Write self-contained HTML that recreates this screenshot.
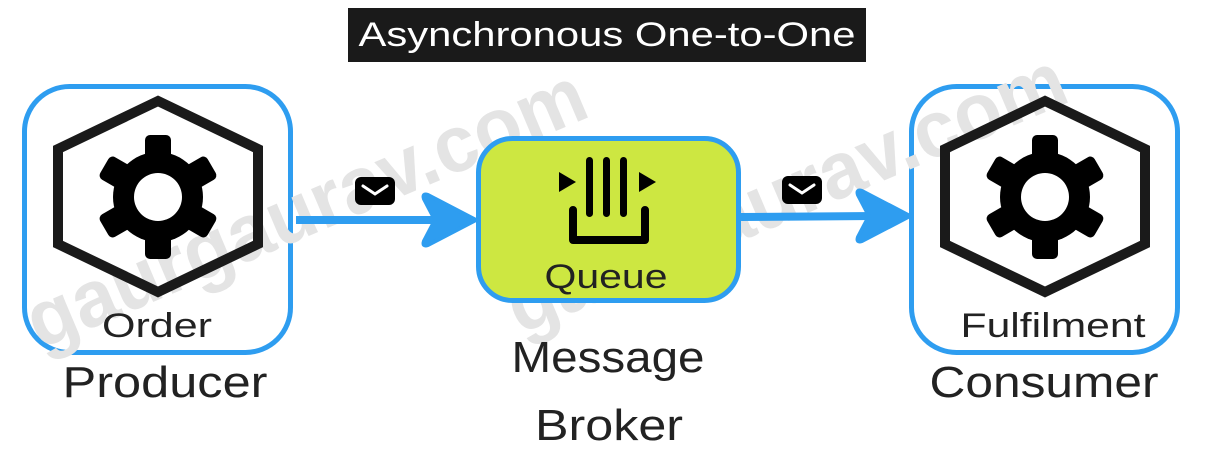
<!DOCTYPE html>
<html><head><meta charset="utf-8"><style>
body{margin:0;background:#fff;width:1209px;height:450px;overflow:hidden;font-family:"Liberation Sans",sans-serif}
</style></head><body>
<svg width="1209" height="450" viewBox="0 0 1209 450" xmlns="http://www.w3.org/2000/svg" font-family="Liberation Sans, sans-serif">
<defs>
<g id="gear">
  <g fill="#000">
    <circle r="45"/>
    <rect x="-13" y="-62" width="26" height="30" rx="5"/>
    <rect x="-13" y="-62" width="26" height="30" rx="5" transform="rotate(60)"/>
    <rect x="-13" y="-62" width="26" height="30" rx="5" transform="rotate(120)"/>
    <rect x="-13" y="-62" width="26" height="30" rx="5" transform="rotate(180)"/>
    <rect x="-13" y="-62" width="26" height="30" rx="5" transform="rotate(240)"/>
    <rect x="-13" y="-62" width="26" height="30" rx="5" transform="rotate(300)"/>
  </g>
  <circle r="24" fill="#fff"/>
</g>
<g id="env">
  <rect x="0" y="0" width="40" height="28" rx="6" fill="#000"/>
  <path d="M8 9 L20 17 L32 9" stroke="#fff" stroke-width="3" fill="none" stroke-linecap="round"/>
</g>
</defs>

<!-- boxes -->
<rect x="24.5" y="86.5" width="266" height="266" rx="45" fill="#fff" stroke="#2e9df0" stroke-width="5"/>
<rect x="911.5" y="86.5" width="266" height="266" rx="45" fill="#fff" stroke="#2e9df0" stroke-width="5"/>

<!-- watermarks -->
<text x="40" y="350" font-size="80" font-weight="bold" fill="#e4e4e4" transform="rotate(-23 40 350)" textLength="600" lengthAdjust="spacingAndGlyphs">gaurgaurav.com</text>
<text x="520" y="335" font-size="80" font-weight="bold" fill="#e4e4e4" transform="rotate(-23 520 335)" textLength="600" lengthAdjust="spacingAndGlyphs">gaurgaurav.com</text>

<rect x="348" y="8" width="518" height="54" fill="#1a1a1a"/>
<text x="607" y="46" font-size="34" fill="#fff" text-anchor="middle" textLength="497" lengthAdjust="spacingAndGlyphs">Asynchronous One-to-One</text>

<!-- producer -->
<polygon points="158,101 258,149 258,244 158,292 58,244 58,149" fill="none" stroke="#1a1a1a" stroke-width="10"/>
<use href="#gear" x="158" y="197"/>
<text x="157" y="337" font-size="34" fill="#222" text-anchor="middle" textLength="110" lengthAdjust="spacingAndGlyphs">Order</text>
<text x="165" y="397" font-size="44" fill="#222" text-anchor="middle" textLength="205" lengthAdjust="spacingAndGlyphs">Producer</text>

<!-- consumer -->
<polygon points="1045,101 1145,149 1145,244 1045,292 945,244 945,149" fill="none" stroke="#1a1a1a" stroke-width="10"/>
<use href="#gear" x="1045" y="197"/>
<text x="1053" y="337" font-size="34" fill="#222" text-anchor="middle" textLength="185" lengthAdjust="spacingAndGlyphs">Fulfilment</text>
<text x="1044" y="397" font-size="44" fill="#222" text-anchor="middle" textLength="229" lengthAdjust="spacingAndGlyphs">Consumer</text>

<!-- queue -->
<rect x="478.5" y="138.5" width="260" height="162" rx="34" fill="#cde741" stroke="#2e9df0" stroke-width="5"/>
<g fill="#000">
  <rect x="586" y="157" width="7" height="60" rx="3.5"/>
  <rect x="603" y="157" width="7" height="60" rx="3.5"/>
  <rect x="620" y="157" width="7" height="60" rx="3.5"/>
  <polygon points="559,172 576,182 559,192"/>
  <polygon points="639,172 656,182 639,192"/>
</g>
<path d="M573 210 V240 H645 V210" fill="none" stroke="#000" stroke-width="8" stroke-linecap="round" stroke-linejoin="round"/>
<text x="606" y="288" font-size="34" fill="#222" text-anchor="middle" textLength="123" lengthAdjust="spacingAndGlyphs">Queue</text>
<text x="608" y="372" font-size="44" fill="#222" text-anchor="middle" textLength="193" lengthAdjust="spacingAndGlyphs">Message</text>
<text x="609" y="440" font-size="44" fill="#222" text-anchor="middle" textLength="148" lengthAdjust="spacingAndGlyphs">Broker</text>

<!-- arrows -->
<line x1="296" y1="220" x2="440" y2="220" stroke="#2e9df0" stroke-width="8"/>
<path d="M476 220 L428 195 Q422 193 424 199 L435 220 L424 241 Q422 247 428 245 Z" fill="#2e9df0" stroke="#2e9df0" stroke-width="4" stroke-linejoin="round"/>
<line x1="741" y1="217" x2="875" y2="216" stroke="#2e9df0" stroke-width="8"/>
<path d="M910 216 L862 191 Q856 189 858 195 L869 216 L858 237 Q856 243 862 241 Z" fill="#2e9df0" stroke="#2e9df0" stroke-width="4" stroke-linejoin="round"/>
<use href="#env" x="355" y="177"/>
<use href="#env" x="782" y="176"/>
</svg>
</body></html>
